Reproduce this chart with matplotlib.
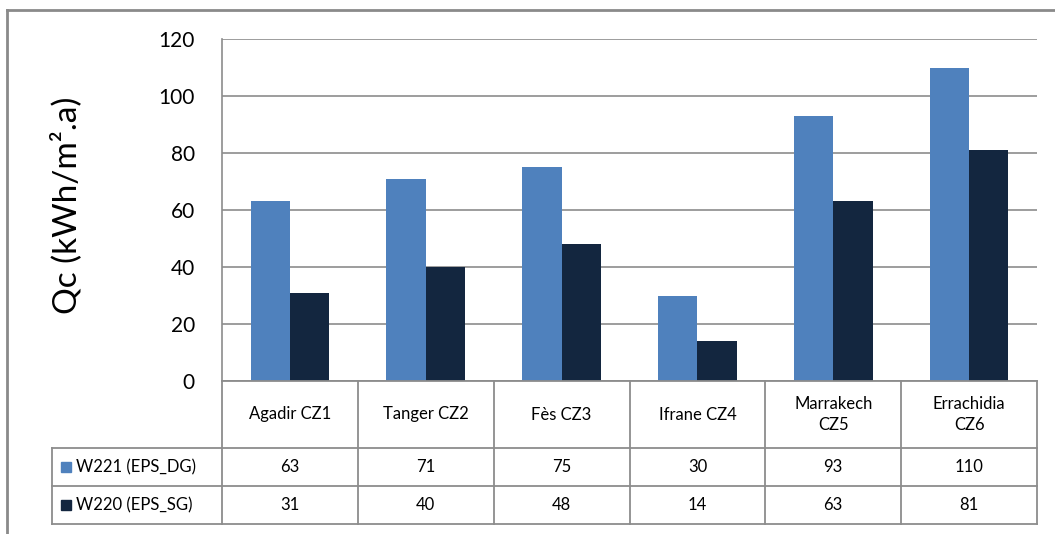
import matplotlib
matplotlib.use("Agg")
import matplotlib.pyplot as plt
from matplotlib.patches import Rectangle
from matplotlib.lines import Line2D

plt.rcParams['font.family'] = ['Lato', 'DejaVu Sans']

categories = ["Agadir CZ1", "Tanger CZ2", "Fès CZ3", "Ifrane CZ4",
              "Marrakech\nCZ5", "Errachidia\nCZ6"]
series_names = ["W221 (EPS_DG)", "W220 (EPS_SG)"]
w221 = [63, 71, 75, 30, 93, 110]
w220 = [31, 40, 48, 14, 63, 81]
y_ticks = [0, 20, 40, 60, 80, 100, 120]
y_label = "Qc (kWh/m\u00b2.a)"

colors = ["#4F81BD", "#13263F"]
grid_c = "#8C8C8C"
frame_c = "#8A8A8A"

W, H = 1055, 534
fig = plt.figure(figsize=(W / 100, H / 100), dpi=100)

# plot area in pixel coordinates
x0, x1 = 222, 1037
y_top, y_bot = 39, 381
ax = fig.add_axes([x0 / W, 1 - y_bot / H, (x1 - x0) / W, (y_bot - y_top) / H])

n = len(categories)
bw = 0.29
xs = range(n)
ax.bar([i - bw / 2 for i in xs], w221, width=bw, color=colors[0], zorder=3)
ax.bar([i + bw / 2 for i in xs], w220, width=bw, color=colors[1], zorder=3)

ax.set_xlim(-0.5, n - 0.5)
ax.set_ylim(0, 120)
ax.set_yticks(y_ticks)
ax.set_yticklabels([str(v) for v in y_ticks], fontsize=15)
ax.tick_params(axis='y', length=0, pad=19.5)
ax.set_xticks([])
for s in ["top", "right", "bottom"]:
    ax.spines[s].set_visible(False)
ax.spines["left"].set_color(grid_c)
ax.spines["left"].set_linewidth(1.2)
ax.yaxis.grid(True, color=grid_c, linewidth=1.2, zorder=0)
ax.set_axisbelow(True)


def px(x, y):
    return x / W, 1 - y / H


fig.text(*px(66, 205), y_label, rotation=90, ha="center", va="center",
         fontsize=24)

# data table below the plot
col_w = (x1 - x0) / n
r_cat, r1, r2 = 448, 486, 524
leg_x = 52


def hline(xa, xb, y):
    fig.add_artist(Line2D([xa / W, xb / W], [1 - y / H, 1 - y / H],
                          color=grid_c, linewidth=1.3))


def vline(x, ya, yb):
    fig.add_artist(Line2D([x / W, x / W], [1 - ya / H, 1 - yb / H],
                          color=grid_c, linewidth=1.3))


hline(x0, x1, y_bot)
hline(leg_x, x1, r_cat)
hline(leg_x, x1, r1)
hline(leg_x, x1, r2)
vline(leg_x, r_cat, r2)
for i in range(n + 1):
    vline(x0 + i * col_w, y_bot, r2)

for i, c in enumerate(categories):
    cx = x0 + (i + 0.5) * col_w
    fig.text(*px(cx, (y_bot + r_cat) / 2), c, ha="center", va="center",
             fontsize=12, linespacing=1.35)

rows = [(r_cat, r1, w221), (r1, r2, w220)]
for k, (ya, yb, vals) in enumerate(rows):
    cy = (ya + yb) / 2
    for i, v in enumerate(vals):
        cx = x0 + (i + 0.5) * col_w
        fig.text(*px(cx, cy), str(v), ha="center", va="center", fontsize=12)
    sq = 10
    fig.add_artist(Rectangle(px(61, cy + sq / 2), sq / W, sq / H,
                             color=colors[k], transform=fig.transFigure))
    fig.text(*px(76, cy), series_names[k], ha="left", va="center", fontsize=12)

# outer chart frame
fig.add_artist(Line2D([7 / W, 7 / W], [0, 1 - 10 / H], color=frame_c, linewidth=2))
fig.add_artist(Line2D([7 / W, 1], [1 - 10 / H, 1 - 10 / H], color=frame_c, linewidth=2))

fig.savefig("out.png", dpi=100)
